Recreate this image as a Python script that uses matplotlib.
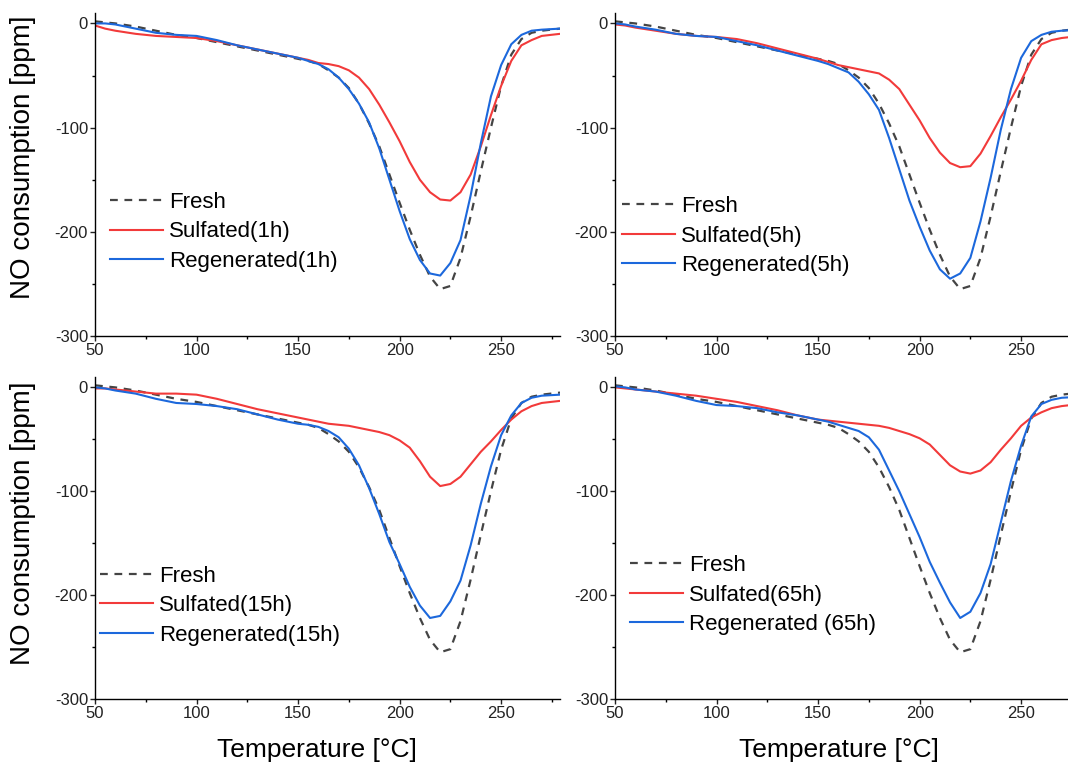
import matplotlib
matplotlib.use('Agg')
import matplotlib.pyplot as plt
from matplotlib.ticker import MultipleLocator

plt.rcParams['font.family'] = ['Liberation Sans', 'DejaVu Sans']
plt.rcParams['axes.unicode_minus'] = False

# temperature grid [C] shared by all curves
temp = [50, 55, 60, 70, 80, 90, 100, 110, 120, 130, 140, 150, 155, 160, 165, 170,
        175, 180, 185, 190, 195, 200, 205, 210, 215, 220, 225, 230, 235, 240, 245,
        250, 255, 260, 265, 270, 279]

# fresh catalyst (same reference curve in every panel)
fresh = [2, 1, 0, -3, -7, -11, -14, -18, -22, -26, -30, -34, -36, -39, -45, -52,
         -62, -77, -96, -118, -145, -172, -198, -222, -243, -255, -252, -225, -185,
         -142, -100, -60, -30, -15, -9, -7, -5]

sulf_1h = [-2, -5, -7, -10, -12, -13, -14, -17, -21, -25, -29, -33, -35, -38, -39,
           -41, -45, -52, -63, -78, -95, -113, -133, -150, -162, -169, -170, -162,
           -145, -118, -88, -60, -36, -21, -16, -12, -10]
regen_1h = [0, 0, -1, -5, -9, -11, -12, -16, -21, -25, -29, -33, -36, -39, -44, -52,
            -63, -77, -95, -120, -150, -180, -207, -227, -240, -242, -230, -208, -165,
            -115, -70, -40, -20, -11, -7, -6, -5]

sulf_5h = [-1, -2, -4, -7, -10, -12, -13, -15, -19, -24, -29, -34, -37, -40, -42,
           -44, -46, -48, -54, -63, -78, -93, -110, -124, -134, -138, -137, -125,
           -108, -90, -73, -55, -35, -20, -16, -14, -12]
regen_5h = [0, -1, -3, -6, -10, -12, -13, -17, -21, -26, -31, -36, -39, -43, -47, -56,
            -68, -83, -110, -140, -170, -195, -218, -236, -245, -240, -225, -190, -148,
            -102, -63, -33, -17, -11, -8, -7, -6]

sulf_15h = [-1, -1, -2, -4, -6, -6, -7, -11, -16, -21, -25, -29, -31, -33, -35, -36,
            -37, -39, -41, -43, -46, -51, -58, -71, -86, -95, -93, -86, -74, -62, -52,
            -41, -31, -23, -18, -15, -13]
regen_15h = [0, -1, -3, -6, -11, -15, -16, -18, -21, -26, -31, -35, -36, -38, -42, -48,
             -59, -75, -97, -122, -149, -170, -192, -210, -222, -220, -206, -186, -152,
             -112, -76, -46, -27, -15, -10, -8, -7]

sulf_65h = [0, -1, -2, -4, -6, -8, -11, -14, -18, -22, -27, -31, -32, -33, -34, -35,
            -36, -37, -39, -42, -45, -49, -55, -65, -75, -81, -83, -80, -72, -60, -49,
            -37, -29, -24, -20, -18, -16]
regen_65h = [1, 0, -2, -4, -8, -13, -17, -18, -20, -24, -27, -31, -33, -36, -39, -42,
             -48, -60, -80, -100, -122, -144, -168, -188, -207, -222, -216, -198, -170,
             -130, -90, -56, -28, -16, -12, -10, -9]

panels = [
    (sulf_1h, regen_1h, 'Sulfated(1h)', 'Regenerated(1h)'),
    (sulf_5h, regen_5h, 'Sulfated(5h)', 'Regenerated(5h)'),
    (sulf_15h, regen_15h, 'Sulfated(15h)', 'Regenerated(15h)'),
    (sulf_65h, regen_65h, 'Sulfated(65h)', 'Regenerated (65h)'),
]

W, H = 1068, 764
fig = plt.figure(figsize=(W / 100, H / 100), dpi=100)

# axes boxes in pixels: left, top, width, height (right column runs past the edge)
boxes = [(95, 13, 465, 323), (615, 13, 465, 323),
         (95, 377, 465, 322), (615, 377, 465, 322)]
# legend upper-left corner in axes fraction
leg_pos = [(0.032, 0.446), (0.015, 0.433), (0.011, 0.414), (0.032, 0.447)]

c_fresh = '#444444'
c_sulf = '#f23a3a'
c_regen = '#1c68dc'

for i, (sulf, regen, lab_s, lab_r) in enumerate(panels):
    l, t, w, h = boxes[i]
    ax = fig.add_axes([l / W, 1 - (t + h) / H, w / W, h / H])
    ax.plot(temp, fresh, color=c_fresh, lw=1.6, linestyle=(0, (3.5, 3)), label='Fresh')
    ax.plot(temp, sulf, color=c_sulf, lw=1.5, label=lab_s)
    ax.plot(temp, regen, color=c_regen, lw=1.5, label=lab_r)

    ax.set_xlim(50, 279)
    ax.set_ylim(-300, 10)
    ax.set_xticks([50, 100, 150, 200, 250])
    ax.set_yticks([-300, -200, -100, 0])
    ax.xaxis.set_minor_locator(MultipleLocator(25))
    ax.yaxis.set_minor_locator(MultipleLocator(50))
    ax.tick_params(which='major', direction='out', length=3.5, width=1, pad=1.5,
                   labelsize=12, colors='#222222')
    ax.tick_params(which='minor', direction='out', length=2, width=1)
    for s in ['top', 'right']:
        ax.spines[s].set_visible(False)
    for s in ['left', 'bottom']:
        ax.spines[s].set_linewidth(1.0)

    ax.legend(loc='upper left', bbox_to_anchor=leg_pos[i], frameon=False, fontsize=16,
              borderpad=0, borderaxespad=0, handlelength=2.4, handletextpad=0.25,
              labelspacing=0.38)

# shared axis titles
for yc in [157, 523]:
    fig.text(23 / W, 1 - yc / H, 'NO consumption [ppm]', rotation=90,
             ha='center', va='center', fontsize=20)
for xc in [317, 839]:
    fig.text(xc / W, 1 - 750 / H, 'Temperature [°C]', ha='center', va='center',
             fontsize=19)

fig.savefig('out.png', dpi=100)
